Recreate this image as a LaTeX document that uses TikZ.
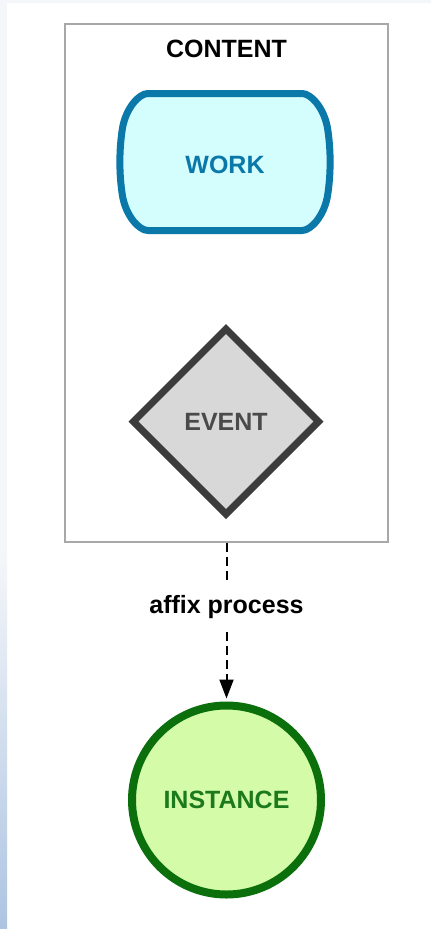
\documentclass[tikz,border=0pt]{standalone}
\usepackage{fontspec}
\setmainfont{Liberation Sans}
\usetikzlibrary{shapes.geometric,arrows.meta}
\definecolor{workblue}{HTML}{0A78A8}
\definecolor{workfill}{HTML}{D4FEFE}
\definecolor{eventgray}{HTML}{3C3C3C}
\definecolor{eventfill}{HTML}{D8D8D8}
\definecolor{eventtext}{HTML}{4A4A4A}
\definecolor{instgreen}{HTML}{0B700B}
\definecolor{instfill}{HTML}{D4FBA8}
\definecolor{insttext}{HTML}{1C7A1C}
\definecolor{framegray}{HTML}{A8A8A8}
\definecolor{stripblue}{HTML}{ADC4E2}
\definecolor{pagegray}{HTML}{F4F6F9}
\begin{document}
\begin{tikzpicture}
			[x=1pt,y=-1pt,
			boldtext/.style={font=\fontsize{25}{30}\selectfont\bfseries},
			frame/.style={draw=framegray,line width=1.5pt,minimum width=323pt,minimum height=518pt,inner sep=0pt},
			work/.style={draw=workblue,fill=workfill,line width=7pt},
			event/.style={diamond,aspect=1,draw=eventgray,fill=eventfill,line width=7pt,minimum width=188pt,minimum height=188pt,inner sep=0pt,text=eventtext,boldtext},
			instance/.style={circle,draw=instgreen,fill=instfill,line width=8pt,minimum size=189pt,inner sep=0pt,text=insttext,boldtext},
			flow/.style={line width=2pt,dash pattern=on 9pt off 5pt},
			>={Triangle[length=19pt,width=14pt]}]
			\fill[pagegray](0,0) rectangle (431,929);
			\fill[white](7,3) rectangle (431,929);
			\shade[top color=pagegray,bottom color=stripblue](0,558) rectangle (7,929);
			\node[frame,name=content] at (226.5,283) {};
			\node[boldtext,name=title] at (226.5,49) {CONTENT};
			\filldraw[work](148,93.5)--(302,93.5) .. controls (311,93.5) and (324,108) .. (327.5,128) .. controls (331,150) and (331,174) .. (327.5,196) .. controls (324,216) and (311,230.5) .. (302,230.5)--(148,230.5) .. controls (139,230.5) and (126,216) .. (122.5,196) .. controls (119,174) and (119,150) .. (122.5,128) .. controls (126,108) and (139,93.5) .. (148,93.5)--cycle;
			\node[boldtext,text=workblue,name=work] at (225,165) {WORK};
			\node[event,name=event] at (226,421.5) {EVENT};
			\node[instance,name=inst] at (226.5,800) {INSTANCE};
			\node[boldtext,minimum height=49pt,inner sep=0pt,name=affix] at (226.5,607.5) {affix process};
			\draw[flow](content)--(affix);
			\draw[flow,->,shorten >=3pt](affix)--(inst);
		\end{tikzpicture}
\end{document}
